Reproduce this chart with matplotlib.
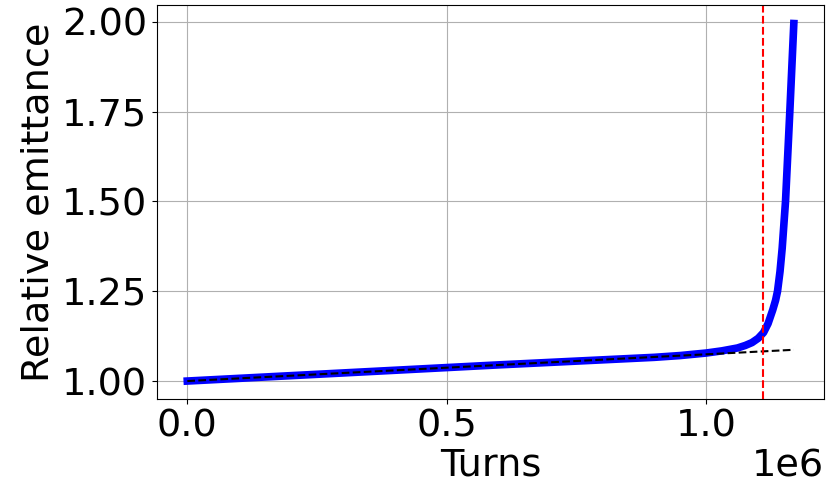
import numpy as np
import matplotlib.pyplot as plt

# blue curve: relative emittance
turns = [0.0, 0.2e6, 0.4e6, 0.6e6, 0.8e6, 0.9e6, 0.95e6, 1.0e6, 1.03e6, 1.06e6,
         1.075e6, 1.088e6, 1.100e6, 1.1103e6, 1.119e6, 1.128e6, 1.1335e6,
         1.1372e6, 1.142e6, 1.1462e6, 1.1526e6, 1.1609e6, 1.1686e6]
emittance = [1.000, 1.015, 1.030, 1.045, 1.059, 1.066, 1.071, 1.078, 1.084, 1.092,
             1.099, 1.107, 1.119, 1.135, 1.160, 1.198, 1.225,
             1.25, 1.305, 1.37, 1.50, 1.75, 1.995]

# black dashed linear fit
fit_turns = [0.0, 1.1686e6]
fit_emit = [1.000, 1.087]

# red dashed vertical marker
marker_turn = 1.1096e6

FS = 27.5

fig = plt.figure(figsize=(8.35, 4.86), dpi=100)
ax = fig.add_axes([0.188, 0.179, 0.799, 0.811])

ax.plot(turns, emittance, color='blue', linewidth=5.5)
ax.plot(fit_turns, fit_emit, color='black', linestyle='--', linewidth=1.5)
ax.axvline(marker_turn, color='red', linestyle='--', linewidth=1.5)

ax.set_ylim(0.95, 2.047)
ax.set_yticks([1.0, 1.25, 1.5, 1.75, 2.0])
ax.set_xticks([0.0, 0.5e6, 1.0e6])
ax.grid(True)
ax.set_xlabel('Turns', fontsize=FS, labelpad=2)
ax.set_ylabel('Relative emittance', fontsize=FS)
ax.tick_params(labelsize=FS)
ax.xaxis.get_offset_text().set_fontsize(FS)

fig.savefig('out.png', dpi=100)
